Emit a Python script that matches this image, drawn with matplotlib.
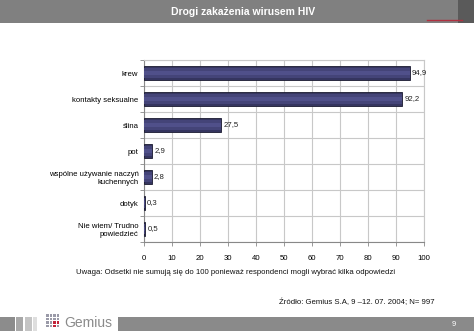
import numpy as np
import matplotlib
matplotlib.use("Agg")
import matplotlib.pyplot as plt
from matplotlib.patches import Rectangle

plt.rcParams["font.family"] = ["Liberation Sans", "DejaVu Sans"]

CATS = ["krew", "kontakty seksualne", "ślina", "pot",
        "wspólne używanie naczyń\nkuchennych", "dotyk", "Nie wiem/ Trudno\npowiedzieć"]
VALS = [94.9, 92.2, 27.5, 2.9, 2.8, 0.3, 0.5]
LABELS = ["94,9", "92,2", "27,5", "2,9", "2,8", "0,3", "0,5"]
XTICKS = list(range(0, 101, 10))

W, H = 474, 331
fig = plt.figure(figsize=(W / 100, H / 100), dpi=100)

# header / footer decoration in figure pixel coords
deco = fig.add_axes([0, 0, 1, 1]); deco.set_xlim(0, W); deco.set_ylim(H, 0); deco.axis("off")
deco.add_patch(Rectangle((0, 0), W, 23, color="#808080", lw=0))
deco.add_patch(Rectangle((458, 0), 16, 23, color="#5a5a5a", lw=0))
deco.plot([427, 462], [19.5, 19.5], color="#b03040", lw=1.0)
deco.text(243, 12, "Drogi zakażenia wirusem HIV", color="white", fontsize=7.5,
          fontweight="bold", ha="center", va="center")
deco.add_patch(Rectangle((0, 317), 15, 14, color="#8c8c8c", lw=0))
deco.add_patch(Rectangle((16, 317), 7, 14, color="#a8a8a8", lw=0))
deco.add_patch(Rectangle((25, 317), 7, 14, color="#c4c4c4", lw=0))
deco.add_patch(Rectangle((33, 317), 4, 14, color="#dedede", lw=0))
deco.add_patch(Rectangle((118, 317), W - 118, 14, color="#8a8a8a", lw=0))
for i in range(4):
    for j in range(4):
        c = "#c0243a" if (i, j) in [(2, 2), (3, 2), (2, 3)] else "#9a9aa8"
        deco.add_patch(Rectangle((46 + i * 3.6, 314 + j * 3.6), 2.6, 2.6, color=c, lw=0))
deco.text(64, 323, "Gemius", color="#8a8a8a", fontsize=10, ha="left", va="center")
deco.text(454, 324, "9", color="white", fontsize=5.5, ha="center", va="center")
deco.text(236, 272, "Uwaga: Odsetki nie sumują się do 100 ponieważ respondenci mogli wybrać kilka odpowiedzi",
          fontsize=5.6, ha="center", va="center", color="#111111")
deco.text(435, 302, "Źródło: Gemius S.A, 9 –12. 07. 2004; N= 997",
          fontsize=5.6, ha="right", va="center", color="#111111")

ax = fig.add_axes([144 / W, 1 - 242 / H, 280 / W, 182 / H])
y = np.arange(len(CATS))
ax.barh(y, VALS, height=0.55, color="#35355f", edgecolor="#1a1a30", lw=0.6, zorder=3)
ax.barh(y, VALS, height=0.38, color="#444478", lw=0, zorder=4)
ax.barh(y, VALS, height=0.18, color="#50508a", lw=0, zorder=5)
for yi, v, s in zip(y, VALS, LABELS):
    ax.text(v + 0.8, yi, s, fontsize=5.6, va="center", ha="left", color="#222222")
ax.set_ylim(len(CATS) - 0.5, -0.5)
ax.set_xlim(0, 100)
ax.set_xticks(XTICKS)
ax.set_yticks(y)
ax.set_yticklabels(CATS, fontsize=5.6, linespacing=1.2)
ax.set_yticks(np.arange(-0.5, len(CATS), 1), minor=True)
ax.tick_params(axis="y", which="major", length=0, pad=4)
ax.tick_params(axis="y", which="minor", length=3, color="#888888", width=0.6)
ax.tick_params(axis="x", labelsize=5.6, length=3, width=0.6, color="#888888", pad=6)
ax.grid(True, which="major", axis="x", color="#c8c8c8", lw=0.8, zorder=0)
ax.grid(True, which="minor", axis="y", color="#c8c8c8", lw=0.8, zorder=0)
for side, sp in ax.spines.items():
    sp.set_color("#c8c8c8" if side in ("top", "right") else "#888888")
    sp.set_linewidth(0.8)

fig.savefig("out.png", dpi=100)
